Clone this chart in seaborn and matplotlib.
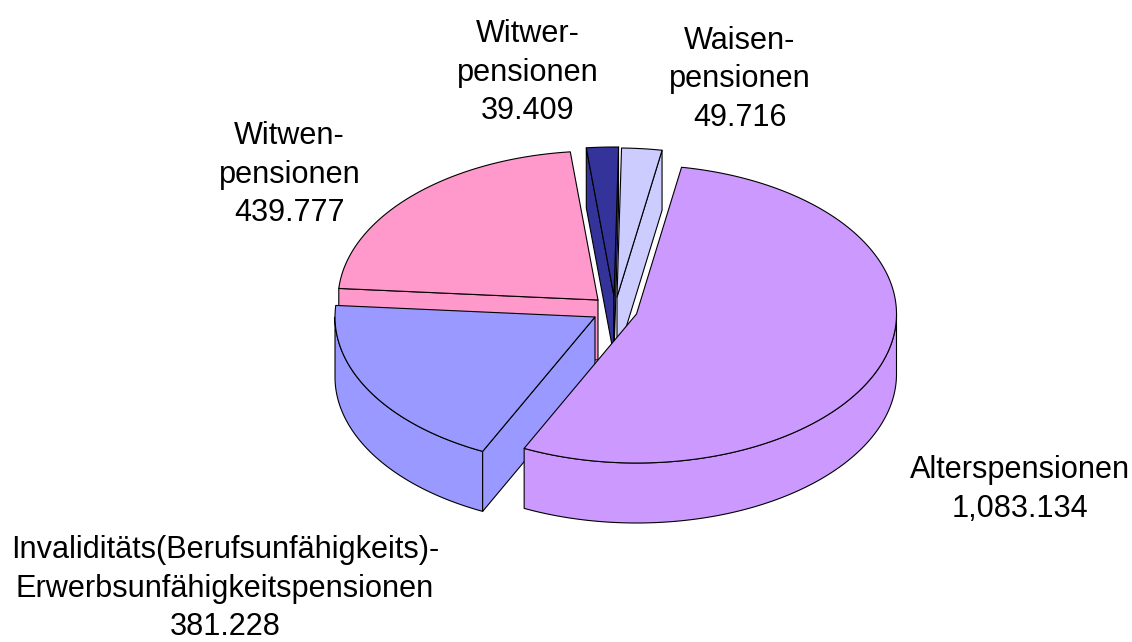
import numpy as np
import matplotlib
matplotlib.use("Agg")
import matplotlib.pyplot as plt
from matplotlib.patches import Polygon
import seaborn as sns

# --- data ---
categories = ["Waisen-\npensionen", "Alterspensionen",
              "Invaliditäts(Berufsunfähigkeits)-\nErwerbsunfähigkeitspensionen",
              "Witwen-\npensionen", "Witwer-\npensionen"]
values = [49.716, 1083.134, 381.228, 439.777, 39.409]
value_labels = ["49.716", "1,083.134", "381.228", "439.777", "39.409"]

# --- style / layout ---
colors = ["#CCCCFF", "#CC99FF", "#9999FF", "#FF99CC", "#333399"]
apex = [(617, 297), (636.5, 314), (595, 317), (598, 300), (614, 296)]
label_pos = [(740, 79.5), (1020, 489.5), (225, 588.5), (289.5, 174.5), (527.5, 72.5)]
draw_order = [3, 4, 0, 2, 1]
start_angle = 89.0
rx, ry, depth = 260.0, 149.0, 60.0
lw = 0.8

sns.set_theme(style="white")
plt.rcParams["font.family"] = ["Liberation Sans", "DejaVu Sans"]
palette = sns.color_palette(colors)

fig, ax = plt.subplots(figsize=(11.32, 6.42), dpi=100)
ax.set_position([0, 0, 1, 1])
ax.set_xlim(0, 1132)
ax.set_ylim(642, 0)
ax.axis("off")

shares = np.array(values) / np.sum(values) * 360.0
ends = start_angle - np.cumsum(shares)
starts = np.concatenate([[start_angle], ends[:-1]])


def rim(a, t):
    r = np.radians(t)
    return np.column_stack([a[0] + rx * np.cos(r), a[1] - ry * np.sin(r)])


def face(pts, color, z):
    ax.add_patch(Polygon(pts, closed=True, facecolor=color, edgecolor="black",
                         linewidth=lw, joinstyle="round", zorder=z))


z = 1
for i in draw_order:
    a, t0, t1, c = apex[i], starts[i], ends[i], palette[i]
    down = np.array([0, depth])
    apex_pt = np.array(a, dtype=float)

    # outer wall: only the part of the arc on the front half
    if t0 >= -180 and t1 <= 0:
        ts = np.linspace(min(t0, 0), max(t1, -180), 200)
        arc = rim(a, ts)
        face(np.vstack([arc, (arc + down)[::-1]]), c, z)
        z += 1
    # cut faces turned towards the viewer
    for t, visible in ((t0, np.cos(np.radians(t0)) < 0), (t1, np.cos(np.radians(t1)) > 0)):
        if visible:
            p = rim(a, np.array([t]))[0]
            face([apex_pt, p, p + down, apex_pt + down], c, z)
            z += 1
    # top face
    arc = rim(a, np.linspace(t0, t1, 300))
    face(np.vstack([apex_pt, arc]), c, z)
    z += 1

for name, val, (x, y) in zip(categories, value_labels, label_pos):
    ax.text(x, y, f"{name}\n{val}", ha="center", va="center", fontsize=22.1,
            color="black", linespacing=1.38, zorder=50)

fig.savefig("out.png", dpi=100, facecolor="white")
